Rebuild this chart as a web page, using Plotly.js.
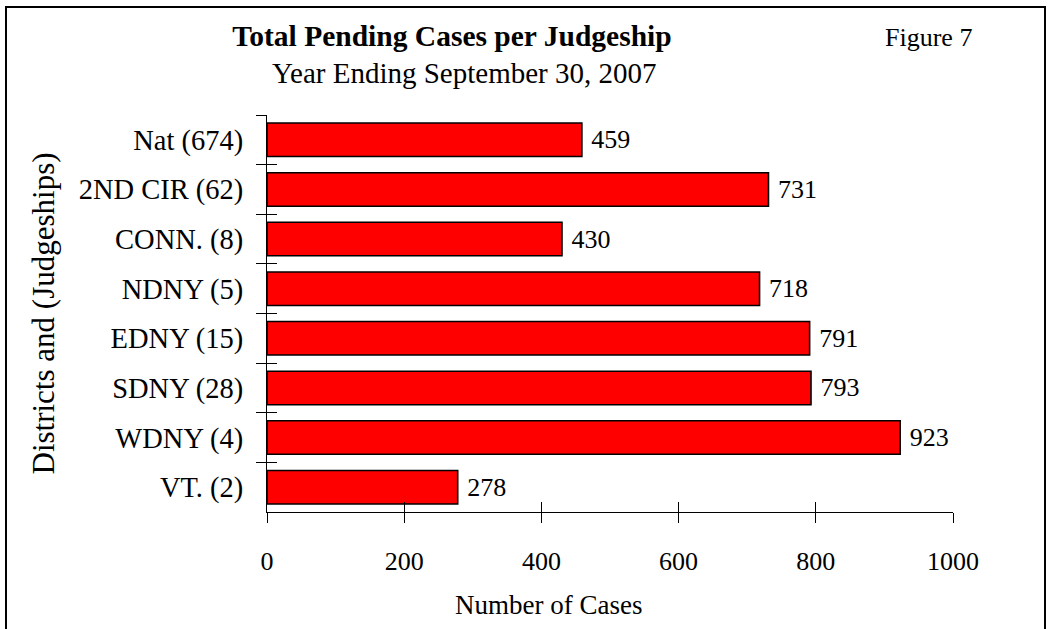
<!DOCTYPE html>
<html>
<head>
<meta charset="utf-8">
<script src="https://cdn.plot.ly/plotly-3.0.1.min.js"></script>
<style>
  html, body { margin: 0; padding: 0; background: #fff; }
  #wrap { position: relative; width: 1048px; height: 629px; overflow: hidden; }
  #chart { width: 1048px; height: 629px; }
  #frame { position: absolute; left: 5px; top: 6px; width: 1037px; height: 640px;
           border: 2px solid #000; pointer-events: none; }
</style>
</head>
<body>
<div id="wrap">
  <div id="chart"></div>
  <div id="frame"></div>
</div>
<script>
const districts = ["Nat (674)", "2ND CIR (62)", "CONN. (8)", "NDNY (5)", "EDNY (15)", "SDNY (28)", "WDNY (4)", "VT. (2)"];
const pendingPerJudgeship = [459, 731, 430, 718, 791, 793, 923, 278];
const xTickValues = [0, 200, 400, 600, 800, 1000];

const FONT = "Liberation Serif, Times New Roman, serif";

const bars = {
  type: "bar",
  orientation: "h",
  y: districts,
  x: pendingPerJudgeship,
  marker: { color: "#FF0000", line: { color: "#000000", width: 1.6 } },
  text: pendingPerJudgeship.map(v => "\u00a0" + v),
  textposition: "outside",
  textfont: { family: FONT, size: 26, color: "#000" },
  cliponaxis: false,
  hoverinfo: "x+y",
  xaxis: "x",
  yaxis: "y"
};

// invisible copy that carries the overlay axes used for the crossing tick halves
const ghost = {
  type: "bar",
  orientation: "h",
  y: districts,
  x: pendingPerJudgeship,
  marker: { color: "rgba(0,0,0,0)" },
  hoverinfo: "skip",
  showlegend: false,
  xaxis: "x2",
  yaxis: "y2"
};

const layout = {
  width: 1048,
  height: 629,
  margin: { l: 267, r: 95, t: 115, b: 117 },
  paper_bgcolor: "#ffffff",
  plot_bgcolor: "#ffffff",
  showlegend: false,
  bargap: 0.325,
  font: { family: FONT, color: "#000" },
  title: {
    text: "<b>Total Pending Cases per Judgeship</b>",
    font: { family: FONT, size: 29.5, color: "#000" },
    xref: "container", x: 452 / 1048, xanchor: "center",
    yref: "container", y: 1 - 36 / 629, yanchor: "middle"
  },
  xaxis: {
    range: [0, 1000],
    tickvals: xTickValues,
    ticktext: xTickValues.map(String),
    ticks: "outside", ticklen: 10, tickwidth: 1, tickcolor: "#000",
    showline: true, linecolor: "#000", linewidth: 1,
    showgrid: false, zeroline: false,
    tickfont: { family: FONT, size: 26, color: "#000" },
    ticklabelstandoff: 16,
    fixedrange: true
  },
  yaxis: {
    type: "category",
    autorange: "reversed",
    tickson: "boundaries",
    ticks: "outside", ticklen: 10, tickwidth: 1, tickcolor: "#000",
    showline: true, linecolor: "#000", linewidth: 1,
    showgrid: false, zeroline: false,
    tickfont: { family: FONT, size: 28.5, color: "#000" },
    ticklabelstandoff: 17,
    fixedrange: true
  },
  xaxis2: {
    overlaying: "x",
    range: [0, 1000],
    tickvals: xTickValues,
    ticks: "inside", ticklen: 10, tickwidth: 1, tickcolor: "#000",
    showticklabels: false, showline: false, showgrid: false, zeroline: false,
    side: "bottom",
    fixedrange: true
  },
  yaxis2: {
    overlaying: "y",
    type: "category",
    autorange: "reversed",
    tickson: "boundaries",
    ticks: "inside", ticklen: 10, tickwidth: 1, tickcolor: "#000",
    showticklabels: false, showline: false, showgrid: false, zeroline: false,
    side: "left",
    fixedrange: true
  },
  annotations: [
    {
      text: "Year Ending September 30, 2007",
      xref: "paper", yref: "paper",
      x: (464 - 267) / 686, y: 1 + (115 - 73) / 397,
      xanchor: "center", yanchor: "middle", showarrow: false,
      font: { family: FONT, size: 29, color: "#000" }
    },
    {
      text: "Figure 7",
      xref: "paper", yref: "paper",
      x: (928 - 267) / 686, y: 1 + (115 - 37) / 397,
      xanchor: "center", yanchor: "middle", showarrow: false,
      font: { family: FONT, size: 26, color: "#000" }
    },
    {
      text: "Number of Cases",
      xref: "paper", yref: "paper",
      x: (548 - 267) / 686, y: -(605 - 512) / 397,
      xanchor: "center", yanchor: "middle", showarrow: false,
      font: { family: FONT, size: 27, color: "#000" }
    },
    {
      text: "Districts and (Judgeships)",
      xref: "paper", yref: "paper",
      x: (43 - 267) / 686, y: 0.5,
      xanchor: "center", yanchor: "middle", showarrow: false, textangle: -90,
      font: { family: FONT, size: 31, color: "#000" }
    }
  ]
};

Plotly.newPlot("chart", [bars, ghost], layout, { displayModeBar: false, staticPlot: true });
</script>
</body>
</html>
